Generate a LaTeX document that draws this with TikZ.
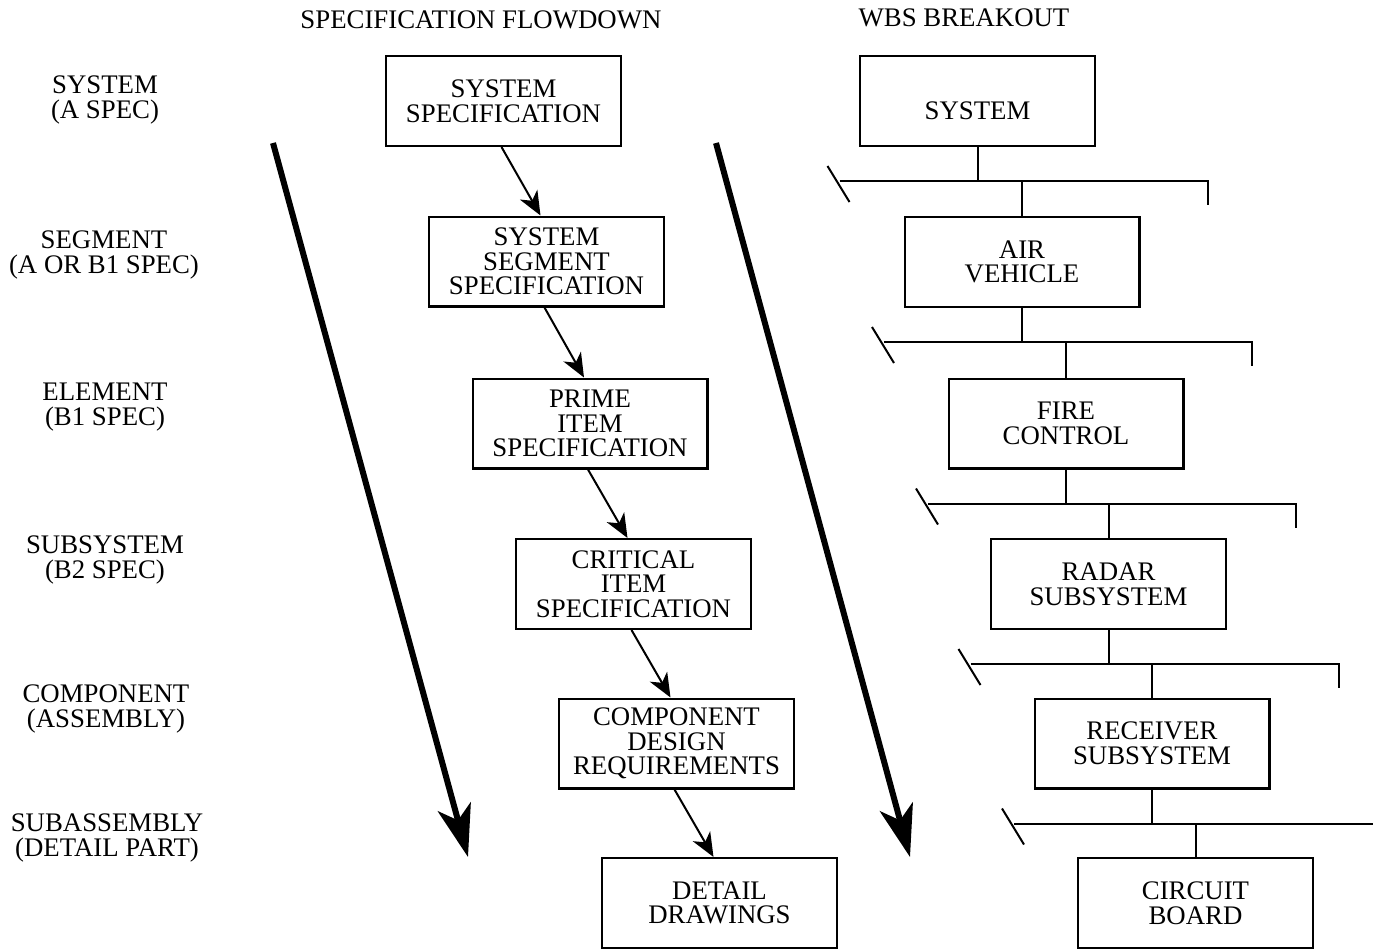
\documentclass[tikz,border=0pt]{standalone}
\usepackage{fontspec}
\setmainfont{Liberation Serif}
\usetikzlibrary{arrows.meta}

\tikzset{
    textfont/.style={font=\fontsize{13.4}{12.3}\selectfont},
    specbox/.style={draw, line width=1.2pt, minimum width=117.3pt, minimum height=44.8pt,
        inner sep=0pt, align=center, textfont},
    wbsbox/.style={specbox},
    levellabel/.style={align=center, inner sep=0pt, textfont},
    flowarrow/.style={line width=1pt, -{Stealth[length=12pt, width=10pt, inset=3.5pt]}},
    bigarrow/.style={line width=3pt, -{Stealth[length=26pt, width=17pt, inset=7pt]}},
    wbsline/.style={line width=1pt},
}

\begin{document}
\begin{tikzpicture}[x=0.5pt, y=-0.5pt]
        \useasboundingbox (0,0) rectangle (1373,949);
        \clip (0,0) rectangle (1373,949);

        % Titles
        \node[levellabel] (spectitle) at (481,20) {SPECIFICATION FLOWDOWN};
        \node[levellabel] (wbstitle) at (964,18) {WBS BREAKOUT};

        % Levels
        \node[levellabel] (lvlsystem) at (105,100) {SYSTEM\\(A SPEC)};
        \node[levellabel] (lvlsegment) at (104,255) {SEGMENT\\(A OR B1 SPEC)};
        \node[levellabel] (lvlelement) at (105,407) {ELEMENT\\(B1 SPEC)};
        \node[levellabel] (lvlsubsystem) at (105,560) {SUBSYSTEM\\(B2 SPEC)};
        \node[levellabel] (lvlcomponent) at (106,709) {COMPONENT\\(ASSEMBLY)};
        \node[levellabel] (lvlsubassembly) at (107,838) {SUBASSEMBLY\\(DETAIL PART)};

        % Specification flowdown
        \node[specbox] (specsystem) at (503.5,101) {SYSTEM\\SPECIFICATION};
        \node[specbox] (specsegment) at (546.5,261.5) {SYSTEM\\SEGMENT\\SPECIFICATION};
        \node[specbox] (specprime) at (590,423.5) {PRIME\\ITEM\\SPECIFICATION};
        \node[specbox] (speccritical) at (633.5,584) {CRITICAL\\ITEM\\SPECIFICATION};
        \node[specbox] (speccomponent) at (676.5,743.5) {COMPONENT\\DESIGN\\REQUIREMENTS};
        \node[specbox] (specdetail) at (719.5,903) {DETAIL\\DRAWINGS};

        \draw[flowarrow] ([shift={(-2,0)}]specsystem.south) -- ([shift={(-6,0)}]specsegment.north);
        \draw[flowarrow] ([shift={(-2,0)}]specsegment.south) -- ([shift={(-6,0)}]specprime.north);
        \draw[flowarrow] ([shift={(-2,0)}]specprime.south) -- ([shift={(-6,0)}]speccritical.north);
        \draw[flowarrow] ([shift={(-2,0)}]speccritical.south) -- ([shift={(-6,0)}]speccomponent.north);
        \draw[flowarrow] ([shift={(-2,0)}]speccomponent.south) -- ([shift={(-6,0)}]specdetail.north);

        % Big arrows
        \coordinate (specstart) at (273,143);
        \coordinate (specend) at (468,857);
        \coordinate (wbsstart) at (716,143);
        \coordinate (wbsend) at (910,857);
        \draw[bigarrow] (specstart) -- (specend);
        \draw[bigarrow] (wbsstart) -- (wbsend);

        % WBS breakout
        \node[wbsbox, text height=18.5pt, text depth=0pt] (wbssystem) at (977.5,101) {SYSTEM};
        \node[wbsbox] (wbsair) at (1022,262) {AIR\\VEHICLE};
        \node[wbsbox] (wbsfire) at (1066,423.5) {FIRE\\CONTROL};
        \node[wbsbox] (wbsradar) at (1108.5,584) {RADAR\\SUBSYSTEM};
        \node[wbsbox] (wbsreceiver) at (1152,743.5) {RECEIVER\\SUBSYSTEM};
        \node[wbsbox] (wbscircuit) at (1195.5,903) {CIRCUIT\\BOARD};

        \foreach \parent/\child in {wbssystem/wbsair, wbsair/wbsfire, wbsfire/wbsradar,
                wbsradar/wbsreceiver, wbsreceiver/wbscircuit} {
            \draw[wbsline] (\parent.south) -- ++(0,34) coordinate (bar);
            \draw[wbsline] ([shift={(-138,0)}]bar) -- ++(368,0) -- ++(0,24);
            \draw[wbsline] ([shift={(-150,-15)}]bar) -- ++(22,36);
            \draw[wbsline] (bar -| \child.north) -- (\child.north);
        }

\end{tikzpicture}
\end{document}
